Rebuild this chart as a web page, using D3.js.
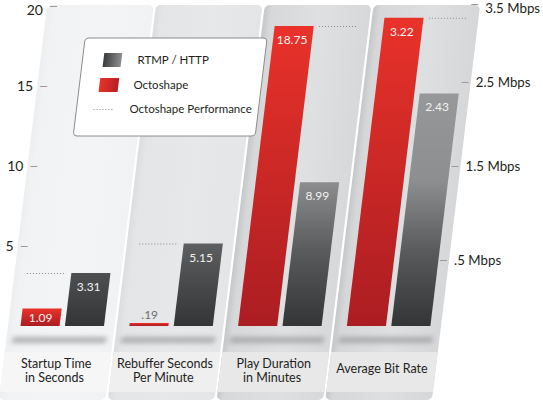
<!DOCTYPE html>
<html>
<head>
<meta charset="utf-8">
<script src="https://cdn.jsdelivr.net/npm/d3@7"></script>
<style>
  html, body { margin: 0; padding: 0; background: #fff; }
  svg { display: block; font-family: Lato, "Open Sans", sans-serif; }
</style>
</head>
<body>
<div id="chart"></div>
<script>
// data
const categoryLines = [
  ['Startup Time', 'in Seconds'],
  ['Rebuffer Seconds', 'Per Minute'],
  ['Play Duration', 'in Minutes'],
  ['Average Bit Rate']
];
const seriesNames = ['Octoshape', 'RTMP / HTTP'];
const octoshapeValues = [1.09, 0.19, 18.75, 3.22];
const rtmpValues = [3.31, 5.15, 8.99, 2.43];
const panelAxis = ['left', 'left', 'left', 'right'];
const leftTicks = [5, 10, 15, 20];
const rightTicks = [0.5, 1.5, 2.5, 3.5];
const legendLabels = ['RTMP / HTTP', 'Octoshape', 'Octoshape Performance'];

const width = 543;
const height = 402;
const base = 326;
const slant = 0.122;
const angle = Math.atan(slant) * 180 / Math.PI;

const panelStyles = [
  { edge: '#eceef0', fill: '#f1f2f4', light: '#f3f4f5', band: '#f6f6f7' },
  { edge: '#dcdde0', fill: '#e4e5e7', light: '#e7e8ea', band: '#efeff0' },
  { edge: '#c6c7c9', fill: '#d7d8da', light: '#dfe0e2', band: '#e8e8e9' },
  { edge: '#c6c7c9', fill: '#d6d7d9', light: '#dedfe1', band: '#e8e8e9' }
];

const svg = d3.select('#chart').append('svg')
  .attr('width', width)
  .attr('height', height);
const defs = svg.append('defs');

// gradients
panelStyles.forEach((s, i) => {
  const gr = defs.append('linearGradient')
    .attr('id', 'panel' + i)
    .attr('x1', 0).attr('x2', 1).attr('y1', 0).attr('y2', 0);
  gr.append('stop').attr('offset', 0).attr('stop-color', s.edge);
  gr.append('stop').attr('offset', 0.07).attr('stop-color', s.fill);
  gr.append('stop').attr('offset', 0.55).attr('stop-color', s.light);
  gr.append('stop').attr('offset', 1).attr('stop-color', s.fill);
});

const redGrad = defs.append('linearGradient')
  .attr('id', 'redBar')
  .attr('x1', 0).attr('x2', 0).attr('y1', 0).attr('y2', 1);
redGrad.append('stop').attr('offset', 0).attr('stop-color', '#e9322a');
redGrad.append('stop').attr('offset', 1).attr('stop-color', '#ab1d22');

const grayGrad = defs.append('linearGradient')
  .attr('id', 'grayBar')
  .attr('gradientUnits', 'userSpaceOnUse')
  .attr('x1', 0).attr('x2', 0).attr('y1', -330).attr('y2', 0);
grayGrad.append('stop').attr('offset', 0).attr('stop-color', '#a2a3a5');
grayGrad.append('stop').attr('offset', 0.56).attr('stop-color', '#8d8e90');
grayGrad.append('stop').attr('offset', 0.77).attr('stop-color', '#5a5b5d');
grayGrad.append('stop').attr('offset', 1).attr('stop-color', '#343537');

const graySwatch = defs.append('linearGradient')
  .attr('id', 'graySwatch')
  .attr('x1', 0).attr('x2', 1).attr('y1', 0).attr('y2', 0);
graySwatch.append('stop').attr('offset', 0).attr('stop-color', '#3a3b3d');
graySwatch.append('stop').attr('offset', 1).attr('stop-color', '#8e8f91');

const redSwatch = defs.append('linearGradient')
  .attr('id', 'redSwatch')
  .attr('x1', 0).attr('x2', 1).attr('y1', 0).attr('y2', 0);
redSwatch.append('stop').attr('offset', 0).attr('stop-color', '#e8322a');
redSwatch.append('stop').attr('offset', 1).attr('stop-color', '#b81f23');

defs.append('filter')
  .attr('id', 'blur')
  .attr('x', '-20%').attr('y', '-200%').attr('width', '140%').attr('height', '500%')
  .append('feGaussianBlur')
  .attr('stdDeviation', 2.5);

// scales
const xPanel = d3.scaleBand()
  .domain(d3.range(categoryLines.length))
  .range([8, 441])
  .paddingInner(0.02);

const xSeries = d3.scaleBand()
  .domain(seriesNames)
  .range([12.5, 96])
  .paddingInner(0.12);

const yLeft = d3.scaleLinear()
  .domain([0, 20])
  .range([0, -320]);

// bit rate bars
const yRate = d3.scaleLinear()
  .domain([0, 3.5])
  .range([0, -335]);

// bit rate axis labels as placed in the original
const yRateAxis = d3.scaleLinear()
  .domain([0, 0.5, 1.5, 2.5, 3.5])
  .range([0, -66, -160, -244, -322]);

const yFor = i => (panelAxis[i] === 'left' ? yLeft : yRate);

// everything is slanted
const g = svg.append('g')
  .attr('transform', `translate(0,${base}) skewX(${-angle})`);

const upright = (sel, x, y) => sel.attr('transform', `translate(${x},${y}) skewX(${angle})`);

// panels
const panels = g.selectAll('.panel')
  .data(categoryLines)
  .enter()
  .append('g')
  .attr('class', 'panel')
  .attr('transform', (d, i) => `translate(${xPanel(i)},0)`);

panels.append('rect')
  .attr('x', 0)
  .attr('y', -321)
  .attr('width', xPanel.bandwidth())
  .attr('height', 395)
  .attr('rx', 5)
  .attr('fill', (d, i) => `url(#panel${i})`);

panels.append('rect')
  .attr('x', 0)
  .attr('y', 26)
  .attr('width', xPanel.bandwidth())
  .attr('height', 40)
  .attr('fill', (d, i) => panelStyles[i].band);

panels.append('rect')
  .attr('x', 6)
  .attr('y', 11)
  .attr('width', 94)
  .attr('height', 6)
  .attr('fill', '#9a9b9d')
  .attr('opacity', 0.75)
  .attr('filter', 'url(#blur)');

// bars
const barData = [];
categoryLines.forEach((c, i) => {
  barData.push({ panel: i, series: seriesNames[0], value: octoshapeValues[i] });
  barData.push({ panel: i, series: seriesNames[1], value: rtmpValues[i] });
});

g.selectAll('.bar')
  .data(barData)
  .enter()
  .append('rect')
  .attr('class', 'bar')
  .attr('x', d => xPanel(d.panel) + xSeries(d.series))
  .attr('y', d => yFor(d.panel)(d.value))
  .attr('width', xSeries.bandwidth())
  .attr('height', d => -yFor(d.panel)(d.value))
  .attr('fill', d => (d.series === seriesNames[0] ? 'url(#redBar)' : 'url(#grayBar)'));

// octoshape performance lines
const perf = categoryLines.map((c, i) => {
  const lo = octoshapeValues[i] < rtmpValues[i] ? seriesNames[0] : seriesNames[1];
  return { panel: i, slot: lo, value: Math.max(octoshapeValues[i], rtmpValues[i]) };
});

g.selectAll('.perf')
  .data(perf)
  .enter()
  .append('line')
  .attr('class', 'perf')
  .attr('x1', d => xPanel(d.panel) + xSeries(d.slot))
  .attr('x2', d => xPanel(d.panel) + xSeries(d.slot) + xSeries.bandwidth())
  .attr('y1', d => yFor(d.panel)(d.value) + 0.5)
  .attr('y2', d => yFor(d.panel)(d.value) + 0.5)
  .attr('stroke', '#8a8b8d')
  .attr('stroke-width', 1)
  .attr('stroke-dasharray', '1,2');

// value labels
const fmt = v => d3.format('.2f')(v).replace(/^0\./, '.');

g.selectAll('.value')
  .data(barData)
  .enter()
  .append('text')
  .attr('class', 'value')
  .each(function(d) {
    const y = yFor(d.panel)(d.value);
    const h = -y;
    let ly = y + 18;
    if (h < 8) ly = y - 4;
    else if (h < 24) ly = -4;
    upright(d3.select(this), xPanel(d.panel) + xSeries(d.series) + xSeries.bandwidth() / 2, ly);
    d3.select(this).attr('fill', h < 8 ? '#6d6e70' : '#f2f2f2');
  })
  .attr('text-anchor', 'middle')
  .attr('font-size', 12)
  .text(d => fmt(d.value));

// category labels
panels.each(function(lines, i) {
  const top = lines.length > 1 ? 42 : 47;
  lines.forEach((t, j) => {
    g.append('text')
      .call(upright, xPanel(i) + xPanel.bandwidth() / 2, top + j * 14)
      .attr('text-anchor', 'middle')
      .attr('font-size', 12.5)
      .attr('fill', '#231f20')
      .text(t);
  });
});

// axes
const leftAxis = g.append('g')
  .attr('transform', 'translate(18,0)')
  .call(d3.axisLeft(yLeft).tickValues(leftTicks).tickSize(7).tickPadding(7));

const rightAxis = g.append('g')
  .attr('transform', 'translate(432,0)')
  .call(d3.axisRight(yRateAxis)
    .tickValues(rightTicks)
    .tickSize(7)
    .tickPadding(7)
    .tickFormat(d => d3.format('.1f')(d).replace(/^0\./, '.') + ' Mbps'));

[leftAxis, rightAxis].forEach(ax => {
  ax.select('.domain').remove();
  ax.selectAll('.tick line').attr('stroke', '#9a9a9a');
  ax.selectAll('.tick text')
    .attr('transform', `skewX(${angle})`)
    .attr('font-size', 14)
    .attr('font-family', 'Lato, "Open Sans", sans-serif')
    .attr('fill', '#231f20');
});
rightAxis.selectAll('.tick text').attr('font-size', 13.3);

// keep the top labels inside the picture
leftAxis.selectAll('.tick text').filter(d => d === 20).attr('dy', '0.62em');
rightAxis.selectAll('.tick text').filter(d => d === 3.5).attr('dy', '0.66em');

// legend
const legend = g.append('g').attr('class', 'legend');

legend.append('rect')
  .attr('x', 50)
  .attr('y', -288)
  .attr('width', 182)
  .attr('height', 98)
  .attr('rx', 4)
  .attr('fill', '#fff')
  .attr('stroke', '#8c8c8c')
  .attr('stroke-width', 1);

const rowY = [-266, -241, -217];

legend.append('rect')
  .attr('x', 71).attr('y', rowY[0] - 7)
  .attr('width', 18).attr('height', 14)
  .attr('fill', 'url(#graySwatch)');

legend.append('rect')
  .attr('x', 70).attr('y', rowY[1] - 7)
  .attr('width', 19).attr('height', 14)
  .attr('fill', 'url(#redSwatch)');

legend.append('line')
  .attr('x1', 67).attr('x2', 87)
  .attr('y1', rowY[2] + 0.5).attr('y2', rowY[2] + 0.5)
  .attr('stroke', '#8a8b8d')
  .attr('stroke-dasharray', '1,2');

legend.selectAll('.ltext')
  .data(legendLabels)
  .enter()
  .append('text')
  .attr('class', 'ltext')
  .each(function(d, i) { upright(d3.select(this), 105 - i, rowY[i]); })
  .attr('dy', '0.35em')
  .attr('font-size', 11.5)
  .attr('fill', '#231f20')
  .text(d => d);
</script>
</body>
</html>
